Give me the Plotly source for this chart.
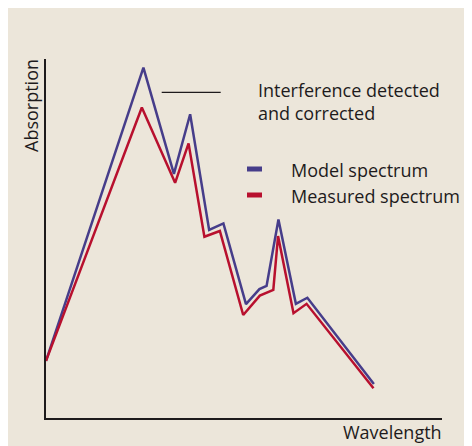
import plotly.graph_objects as go

# ---- data (arbitrary units) ----
model_x = [0, 24.6, 32.3, 36.4, 41.2, 44.8, 50.5, 53.9, 55.7, 58.7, 63.1, 66.0, 82.8]
model_y = [15.9, 97.6, 68.0, 84.6, 52.4, 54.2, 31.7, 35.9, 36.8, 55.3, 31.8, 33.5, 9.5]
measured_x = [0, 24.2, 32.6, 36.0, 40.0, 43.9, 49.8, 54.0, 57.4, 58.6, 62.5, 65.8, 82.7]
measured_y = [15.9, 86.5, 65.5, 76.5, 50.5, 52.1, 28.7, 34.1, 35.7, 50.7, 29.2, 31.8, 8.3]
series_names = ["Model spectrum", "Measured spectrum"]
x_title = "Wavelength"
y_title = "Absorption"
note_text = "Interference detected<br>and corrected"

BLUE = "#463d8a"
RED = "#b8102e"
BG = "#ece6da"
INK = "#1e1b1c"
FONT = "Open Sans"

OFF = 8  # page body margin
W, H = 464, 438
L, R, T, B = 38, 30, 51, 28
PW, PH = W - L - R, H - T - B


def px(x):  # screen pixel -> paper x
    return (x - OFF - L) / PW


def py(y):  # screen pixel -> paper y
    return (H - B - (y - OFF)) / PH


fig = go.Figure()
fig.add_trace(go.Scatter(x=model_x, y=model_y, mode="lines", name=series_names[0],
                         line=dict(color=BLUE, width=2.5), showlegend=False))
fig.add_trace(go.Scatter(x=measured_x, y=measured_y, mode="lines", name=series_names[1],
                         line=dict(color=RED, width=2.5), showlegend=False))

shapes = [
    dict(type="line", xref="paper", yref="paper", x0=px(161.7), x1=px(220.7), y0=py(92.3), y1=py(92.3),
         line=dict(color=INK, width=1.2)),
    dict(type="rect", xref="paper", yref="paper", x0=px(247), x1=px(262), y0=py(166.5), y1=py(171.5),
         fillcolor=BLUE, line=dict(width=0)),
    dict(type="rect", xref="paper", yref="paper", x0=px(247), x1=px(262), y0=py(192.5), y1=py(197.5),
         fillcolor=RED, line=dict(width=0)),
]

font = dict(family=FONT, size=18, color=INK)
annotations = [
    dict(text=note_text, xref="paper", yref="paper", x=px(256), y=py(102), xanchor="left",
         yanchor="middle", showarrow=False, align="left", font=font),
    dict(text=series_names[0], xref="paper", yref="paper", x=px(289), y=py(170), xanchor="left",
         yanchor="middle", showarrow=False, font=font),
    dict(text=series_names[1], xref="paper", yref="paper", x=px(289), y=py(196), xanchor="left",
         yanchor="middle", showarrow=False, font=font),
    dict(text=x_title, xref="paper", yref="paper", x=px(444), y=py(432), xanchor="right",
         yanchor="middle", showarrow=False, font=font),
    dict(text=y_title, xref="paper", yref="paper", x=px(31), y=py(106), xanchor="center",
         yanchor="middle", showarrow=False, textangle=-90, font=font),
]

fig.update_layout(
    width=W, height=H,
    margin=dict(l=L, r=R, t=T, b=B, pad=0),
    paper_bgcolor=BG, plot_bgcolor=BG,
    shapes=shapes, annotations=annotations,
    showlegend=False,
    xaxis=dict(range=[0, 100], showline=True, linecolor=INK, linewidth=1.6, showgrid=False,
               zeroline=False, showticklabels=False, ticks=""),
    yaxis=dict(range=[0, 100], showline=True, linecolor=INK, linewidth=1.6, showgrid=False,
               zeroline=False, showticklabels=False, ticks=""),
)

fig.write_html("out.html")
